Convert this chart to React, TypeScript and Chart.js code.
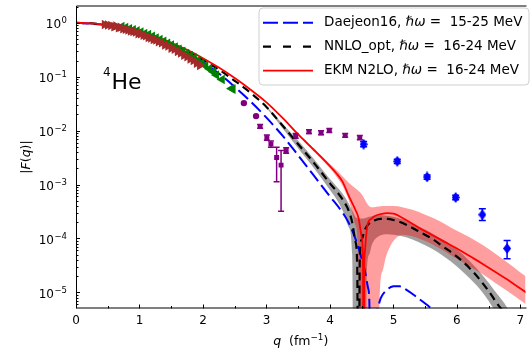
import React, { useEffect, useRef } from 'react';
import { Chart, registerables } from 'chart.js';
Chart.register(...registerables);

// ---------- data ----------
const qRed = [0, 0.25, 0.5, 0.75, 1.0, 1.25, 1.5, 1.75, 2.0, 2.25, 2.5, 2.75, 3.0, 3.25, 3.5, 3.75, 4.0, 4.1, 4.2, 4.3, 4.4, 4.45, 4.5, 4.52, 4.53, 4.54, 4.55, 4.57, 4.6, 4.65, 4.7, 4.8, 4.9, 5.0, 5.2, 5.4, 5.6, 5.8, 6.0, 6.2, 6.4, 6.6, 6.8, 7.0, 7.1];
const fRed = [1, 0.977, 0.91, 0.809, 0.685, 0.555, 0.428, 0.315, 0.221, 0.148, 0.0944, 0.0575, 0.0335, 0.0174, 0.00851, 0.00437, 0.00219, 0.00162, 0.00112, 6.0e-4, 3.4e-4, 2.4e-4, 1.05e-4, 3.5e-5, 1e-8, 2.8e-5, 5.6e-5, 1.12e-4, 1.95e-4, 2.29e-4, 2.57e-4, 2.82e-4, 2.95e-4, 2.88e-4, 2.19e-4, 1.58e-4, 1.17e-4, 8.7e-5, 6.5e-5, 4.7e-5, 3.4e-5, 2.4e-5, 1.7e-5, 1.17e-5, 9.8e-6];

const qBlack = [0, 0.25, 0.5, 0.75, 1, 1.25, 1.5, 1.75, 2, 2.25, 2.5, 2.75, 3, 3.25, 3.5, 3.75, 4, 4.1, 4.2, 4.3, 4.35, 4.4, 4.43, 4.45, 4.47, 4.5, 4.55, 4.6, 4.7, 4.8, 4.9, 5.0, 5.2, 5.4, 5.6, 5.8, 6.0, 6.2, 6.4, 6.6, 6.8, 7.0];
const fBlack = [1, 0.977, 0.909, 0.806, 0.68, 0.548, 0.418, 0.304, 0.206, 0.136, 0.0841, 0.0502, 0.0275, 0.0126, 5.6e-3, 2.5e-3, 1.05e-3, 7.6e-4, 5.25e-4, 3.16e-4, 2.0e-4, 8.9e-5, 2.8e-5, 1e-9, 4.5e-5, 9.5e-5, 1.45e-4, 1.8e-4, 2.15e-4, 2.3e-4, 2.3e-4, 2.2e-4, 1.8e-4, 1.35e-4, 1.0e-4, 6.8e-5, 4.6e-5, 2.8e-5, 1.5e-5, 7e-6, 2.5e-6, 1e-7];

const qBlue = [0, 0.5, 1.0, 1.5, 2.0, 2.25, 2.5, 2.75, 3.0, 3.25, 3.5, 3.75, 4.0, 4.2, 4.3, 4.4, 4.5, 4.55, 4.6, 4.62, 4.66, 4.7, 4.75, 4.8, 4.9, 5.0, 5.05, 5.1, 5.2, 5.3, 5.4, 5.5, 5.6, 5.7, 5.8, 6.0];
const fBlue = [1, 0.902, 0.661, 0.389, 0.186, 0.115, 0.0646, 0.0347, 0.0174, 0.00813, 0.00347, 0.00145, 6.0e-4, 3.0e-4, 1.9e-4, 1.0e-4, 4.2e-5, 2.5e-5, 1.2e-5, 7e-6, 1e-9, 2e-6, 5e-6, 7.8e-6, 1.12e-5, 1.29e-5, 1.3e-5, 1.29e-5, 1.12e-5, 9.3e-6, 7.6e-6, 6.2e-6, 5.0e-6, 4.0e-6, 3.2e-6, 2.0e-6];

const qPink = [3.0, 3.25, 3.5, 3.75, 4.0, 4.1, 4.2, 4.3, 4.4, 4.45, 4.47, 4.5, 4.55, 4.6, 4.65, 4.7, 4.76, 4.78, 4.83, 4.88, 4.94, 5.0, 5.14, 5.3, 5.5, 5.66, 6.0, 6.2, 6.4, 6.6, 6.8, 7.0, 7.1];
const pinkUpper = [0.0336, 0.0176, 8.91e-3, 4.57e-3, 2.4e-3, 1.86e-3, 1.41e-3, 1.07e-3, 8.51e-4, 7.59e-4, 7.24e-4, 6.61e-4, 5.25e-4, 4.17e-4, 3.8e-4, 3.8e-4, 3.89e-4, 3.89e-4, 3.98e-4, 3.98e-4, 3.98e-4, 3.98e-4, 3.8e-4, 3.39e-4, 2.75e-4, 2.29e-4, 1.38e-4, 1.05e-4, 7.59e-5, 5.25e-5, 3.55e-5, 2.34e-5, 1.91e-5];
const pinkLower = [0.0334, 0.0172, 8.13e-3, 4.07e-3, 2.0e-3, 1.41e-3, 9.33e-4, 5.0e-4, 1.78e-4, 3.16e-5, 1e-9, 1e-9, 1e-9, 1e-9, 1e-9, 1e-9, 1e-9, 6.3e-6, 2.51e-5, 4.47e-5, 6.76e-5, 8.91e-5, 1.17e-4, 1.1e-4, 8.91e-5, 7.24e-5, 4.17e-5, 3.02e-5, 2.19e-5, 1.51e-5, 1.05e-5, 7.08e-6, 5.89e-6];

const qGray = [3.0, 3.25, 3.5, 3.75, 4.0, 4.1, 4.2, 4.3, 4.35, 4.38, 4.4, 4.45, 4.5, 4.56, 4.58, 4.62, 4.66, 4.7, 4.8, 4.9, 5.0, 5.2, 5.4, 5.6, 5.8, 6.0, 6.2, 6.4, 6.6, 6.8, 7.0];
const grayUpper = [0.0288, 0.0135, 6.46e-3, 2.95e-3, 1.26e-3, 9.3e-4, 6.76e-4, 4.37e-4, 3.3e-4, 2.82e-4, 2.51e-4, 2.34e-4, 2.34e-4, 2.4e-4, 2.45e-4, 2.51e-4, 2.57e-4, 2.63e-4, 2.69e-4, 2.63e-4, 2.51e-4, 2.14e-4, 1.66e-4, 1.26e-4, 9.12e-5, 6.31e-5, 3.8e-5, 2.09e-5, 1.05e-5, 5.0e-6, 1.6e-6];
const grayLower = [0.0266, 0.0112, 4.68e-3, 2.0e-3, 7.9e-4, 5.4e-4, 3.3e-4, 1.58e-4, 5.0e-5, 1e-9, 1e-9, 1e-9, 1e-9, 1e-9, 2.0e-5, 5.01e-5, 7.59e-5, 9.33e-5, 1.15e-4, 1.2e-4, 1.17e-4, 1.05e-4, 8.51e-5, 6.46e-5, 4.57e-5, 3.02e-5, 1.82e-5, 1.0e-5, 4.47e-6, 1.58e-6, 3.2e-7];

// experimental data
const qBrown = [0.45, 0.5, 0.55, 0.6, 0.63, 0.67, 0.7, 0.74, 0.78, 0.82, 0.86, 0.9, 0.94, 0.98, 1.02, 1.06, 1.1, 1.14, 1.18, 1.22, 1.26, 1.3, 1.35, 1.4, 1.45, 1.5, 1.55, 1.6, 1.65, 1.7, 1.75, 1.8, 1.85, 1.9, 1.95];
const fBrown = [0.933, 0.912, 0.891, 0.851, 0.871, 0.813, 0.832, 0.776, 0.759, 0.741, 0.708, 0.692, 0.676, 0.631, 0.631, 0.589, 0.575, 0.537, 0.525, 0.49, 0.479, 0.447, 0.427, 0.389, 0.372, 0.339, 0.324, 0.295, 0.275, 0.251, 0.234, 0.214, 0.2, 0.178, 0.162];

const qGreen = [0.72, 0.78, 0.84, 0.9, 0.96, 1.02, 1.08, 1.14, 1.2, 1.26, 1.32, 1.38, 1.44, 1.5, 1.56, 1.62, 1.68, 1.74, 1.8, 1.86, 1.92, 1.98, 2.04, 2.1, 2.16, 2.21, 2.3, 2.45, 2.47];
const fGreen = [0.86, 0.82, 0.78, 0.745, 0.71, 0.675, 0.635, 0.605, 0.565, 0.525, 0.49, 0.455, 0.418, 0.388, 0.355, 0.324, 0.296, 0.27, 0.245, 0.222, 0.2, 0.18, 0.16, 0.14, 0.124, 0.108, 0.089, 0.0603, 0.0589];

const qPurpleCirc = [2.644, 2.836];
const fPurpleCirc = [0.0324, 0.0186];
const qPurple = [2.9, 3.006, 3.07, 3.16, 3.23, 3.31, 3.46, 3.67, 3.86, 3.99, 4.24, 4.47];
const fPurple = [0.012, 0.00741, 0.00562, 0.00316, 0.00229, 0.00427, 0.00794, 0.00955, 0.00912, 0.01, 0.00813, 0.00741];
const purpleLo = [0.0111, 0.0066, 0.0049, 0.00112, 0.00032, 0.0038, 0.0072, 0.0088, 0.0084, 0.0092, 0.0075, 0.0068];
const purpleHi = [0.013, 0.0083, 0.0064, 0.0049, 0.0043, 0.0048, 0.0088, 0.0104, 0.0099, 0.0109, 0.0088, 0.0081];

const qDiamond = [4.53, 5.06, 5.53, 5.98, 6.4, 6.79];
const fDiamond = [0.0056, 0.0027, 0.00138, 5.75e-4, 2.75e-4, 6.5e-5];
const diamondLo = [0.005, 0.00245, 0.00125, 5.2e-4, 2.15e-4, 4.2e-5];
const diamondHi = [0.0063, 0.00295, 0.0015, 6.3e-4, 3.55e-4, 9.1e-5];

const xTickValues = [0, 1, 2, 3, 4, 5, 6, 7];
const yTickValues = [1, 0.1, 0.01, 1e-3, 1e-4, 1e-5];
const yTickExp = ['0', '\u22121', '\u22122', '\u22123', '\u22124', '\u22125'];

const FONT = '"DejaVu Sans", sans-serif';

const zip = (xs: number[], ys: number[]) => xs.map((x, i) => ({ x, y: ys[i] }));

function makeDiamond(w: number, h: number, color: string) {
  const c = document.createElement('canvas');
  c.width = w;
  c.height = h;
  const g = c.getContext('2d')!;
  g.fillStyle = color;
  g.beginPath();
  g.moveTo(w / 2, 0);
  g.lineTo(w, h / 2);
  g.lineTo(w / 2, h);
  g.lineTo(0, h / 2);
  g.closePath();
  g.fill();
  return c;
}

const errorBarPlugin = {
  id: 'errbars',
  beforeDatasetsDraw(chart: any) {
    const { ctx, scales: { x, y } } = chart;
    ctx.save();
    const draw = (qs: number[], lo: number[], hi: number[], color: string, cap: number, lw: number) => {
      ctx.strokeStyle = color;
      ctx.lineWidth = lw;
      qs.forEach((q, i) => {
        const px = x.getPixelForValue(q);
        const y1 = y.getPixelForValue(lo[i]);
        const y2 = y.getPixelForValue(hi[i]);
        ctx.beginPath();
        ctx.moveTo(px, y1); ctx.lineTo(px, y2);
        ctx.moveTo(px - cap, y1); ctx.lineTo(px + cap, y1);
        ctx.moveTo(px - cap, y2); ctx.lineTo(px + cap, y2);
        ctx.stroke();
      });
    };
    draw(qPurple, purpleLo, purpleHi, '#800080', 3, 1.5);
    draw(qDiamond, diamondLo, diamondHi, '#0000ff', 3.5, 1.5);
    ctx.restore();
  },
};

const decorPlugin = {
  id: 'decor',
  afterDraw(chart: any) {
    const { ctx, chartArea: a, scales: { x, y } } = chart;
    ctx.save();
    ctx.strokeStyle = '#000';
    ctx.lineWidth = 1;
    // frame (left, top, bottom)
    ctx.beginPath();
    ctx.moveTo(a.right + 1, a.top + 0.5);
    ctx.lineTo(a.left + 0.5, a.top + 0.5);
    ctx.lineTo(a.left + 0.5, a.bottom - 0.5);
    ctx.lineTo(a.right + 1, a.bottom - 0.5);
    ctx.stroke();
    // x ticks
    ctx.beginPath();
    for (let v = 0; v <= 7.05; v += 0.5) {
      const px = Math.round(x.getPixelForValue(v)) + 0.5;
      const major = Math.abs(v - Math.round(v)) < 1e-6;
      const len = major ? 4 : 2.5;
      ctx.moveTo(px, a.bottom);
      ctx.lineTo(px, a.bottom - len);
    }
    // y ticks
    for (let e = -6; e <= 0; e++) {
      for (let k = 1; k <= 9; k++) {
        const v = k * Math.pow(10, e);
        if (v < y.min || v > y.max) continue;
        const py = Math.round(y.getPixelForValue(v)) + 0.5;
        const len = k === 1 ? 4 : 2.5;
        ctx.moveTo(a.left, py);
        ctx.lineTo(a.left + len, py);
      }
    }
    ctx.stroke();

    ctx.fillStyle = '#000';
    // x tick labels
    ctx.font = `12px ${FONT}`;
    ctx.textAlign = 'center';
    ctx.textBaseline = 'alphabetic';
    xTickValues.forEach((v) => {
      ctx.fillText(String(v), x.getPixelForValue(v), a.bottom + 15.5);
    });
    // y tick labels
    ctx.textAlign = 'right';
    yTickValues.forEach((v, i) => {
      const py = y.getPixelForValue(v);
      ctx.font = `8.5px ${FONT}`;
      const sw = ctx.measureText(yTickExp[i]).width;
      ctx.fillText(yTickExp[i], a.left - 9, py + 0.5);
      ctx.font = `12px ${FONT}`;
      ctx.fillText('10', a.left - 9 - sw - 0.5, py + 5.5);
    });

    // x axis title
    const cx = (a.left + a.right) / 2;
    const by = 345;
    ctx.textAlign = 'left';
    const parts: [string, string, number][] = [
      ['q', `italic 12.5px ${FONT}`, 0],
      ['  (fm', `12.5px ${FONT}`, 0],
      ['\u22121', `8.8px ${FONT}`, -5],
      [')', `12.5px ${FONT}`, 0],
    ];
    let tw = 0;
    parts.forEach(([t, f]) => { ctx.font = f; tw += ctx.measureText(t).width; });
    let tx = cx - tw / 2;
    parts.forEach(([t, f, dy]) => { ctx.font = f; ctx.fillText(t, tx, by + dy); tx += ctx.measureText(t).width; });

    // y axis title
    ctx.save();
    ctx.translate(30, (a.top + a.bottom) / 2);
    ctx.rotate(-Math.PI / 2);
    const yparts: [string, string][] = [
      ['|', `12.5px ${FONT}`],
      ['F', `italic 12.5px ${FONT}`],
      ['(', `12.5px ${FONT}`],
      ['q', `italic 12.5px ${FONT}`],
      [')|', `12.5px ${FONT}`],
    ];
    let yw = 0;
    yparts.forEach(([t, f]) => { ctx.font = f; yw += ctx.measureText(t).width; });
    let yx = -yw / 2;
    yparts.forEach(([t, f]) => { ctx.font = f; ctx.fillText(t, yx, 0); yx += ctx.measureText(t).width; });
    ctx.restore();

    // nucleus label
    ctx.font = `12px ${FONT}`;
    ctx.fillText('4', 103, 75.5);
    ctx.font = `22px ${FONT}`;
    ctx.fillText('He', 111.5, 88.5);

    // legend
    const lx = 259, ly = 8, lw = 270, lh = 77;
    ctx.beginPath();
    const r = 4;
    ctx.moveTo(lx + r, ly);
    ctx.arcTo(lx + lw, ly, lx + lw, ly + lh, r);
    ctx.arcTo(lx + lw, ly + lh, lx, ly + lh, r);
    ctx.arcTo(lx, ly + lh, lx, ly, r);
    ctx.arcTo(lx, ly, lx + lw, ly, r);
    ctx.closePath();
    ctx.fillStyle = 'rgba(255,255,255,0.8)';
    ctx.fill();
    ctx.strokeStyle = '#d0d0d0';
    ctx.lineWidth = 1;
    ctx.stroke();

    const items = [
      { pre: 'Daejeon16, ', post: ' =  15-25 MeV', color: '#0000ff', dash: [15, 5], w: 2 },
      { pre: 'NNLO_opt, ', post: ' =  16-24 MeV', color: '#000000', dash: [8, 12], w: 2.2 },
      { pre: 'EKM N2LO, ', post: ' =  16-24 MeV', color: '#ff0000', dash: [], w: 1.8 },
    ];
    items.forEach((it, i) => {
      const cy = 22.7 + i * 24;
      ctx.strokeStyle = it.color;
      ctx.lineWidth = it.w;
      ctx.setLineDash(it.dash);
      ctx.beginPath();
      ctx.moveTo(263, cy);
      ctx.lineTo(313, cy);
      ctx.stroke();
      ctx.setLineDash([]);
      ctx.fillStyle = '#000';
      ctx.textBaseline = 'middle';
      let px = 324;
      ctx.font = `13.5px ${FONT}`;
      ctx.fillText(it.pre, px, cy);
      px += ctx.measureText(it.pre).width;
      ctx.font = `italic 13.5px ${FONT}`;
      ctx.fillText('\u210F\u03C9', px, cy);
      px += ctx.measureText('\u210F\u03C9').width;
      ctx.font = `13.5px ${FONT}`;
      ctx.fillText(it.post, px, cy);
    });
    ctx.restore();
  },
};

export default function App() {
  const ref = useRef<HTMLCanvasElement>(null);
  useEffect(() => {
    const diamond = makeDiamond(8, 11, '#0000ff');
    const lineBase = { pointRadius: 0, pointHoverRadius: 0, fill: false, cubicInterpolationMode: 'monotone' as const };
    const chart = new Chart(ref.current!, {
      type: 'line',
      data: {
        datasets: [
          // markers (top)
          { data: zip(qBrown, fBrown), showLine: false, pointStyle: 'triangle', rotation: 90, pointRadius: 5.5, backgroundColor: '#a52a2a', borderColor: '#a52a2a', borderWidth: 0, order: 0 } as any,
          { data: zip(qGreen, fGreen), showLine: false, pointStyle: 'triangle', rotation: -90, pointRadius: 5.5, backgroundColor: '#008000', borderColor: '#008000', borderWidth: 0, order: 1 },
          { data: zip(qPurpleCirc, fPurpleCirc), showLine: false, pointStyle: 'circle', pointRadius: 3.2, backgroundColor: '#800080', borderColor: '#800080', borderWidth: 0, order: 0 },
          { data: zip(qPurple, fPurple), showLine: false, pointStyle: 'rect', pointRadius: 3.5, backgroundColor: '#800080', borderColor: '#800080', borderWidth: 0, order: 0 },
          { data: zip(qDiamond, fDiamond), showLine: false, pointStyle: diamond, pointRadius: 5, backgroundColor: '#0000ff', borderColor: '#0000ff', borderWidth: 0, order: 0 },
          // lines
          { ...lineBase, data: zip(qRed, fRed), borderColor: '#ff0000', borderWidth: 1.8, order: 2 },
          { ...lineBase, data: zip(qBlack, fBlack), borderColor: '#000000', borderWidth: 2.2, borderDash: [8, 5], order: 2 },
          { ...lineBase, data: zip(qBlue, fBlue), borderColor: '#0000ff', borderWidth: 2, borderDash: [13, 5], order: 2 },
          // bands
          { ...lineBase, data: zip(qPink, pinkUpper), borderWidth: 0, fill: '+1', backgroundColor: 'rgba(255,0,0,0.38)', order: 3 },
          { ...lineBase, data: zip(qPink, pinkLower), borderWidth: 0, order: 3 },
          { ...lineBase, data: zip(qGray, grayUpper), borderWidth: 0, fill: '+1', backgroundColor: 'rgba(0,0,0,0.37)', order: 4 },
          { ...lineBase, data: zip(qGray, grayLower), borderWidth: 0, order: 4 },
        ],
      },
      options: {
        animation: false,
        responsive: false,
        devicePixelRatio: 1,
        events: [],
        layout: { padding: { top: 1, right: 0, left: 0, bottom: 0 } },
        plugins: { legend: { display: false }, tooltip: { enabled: false } },
        scales: {
          x: {
            type: 'linear', min: 0, max: 7.08,
            grid: { display: false }, border: { display: false },
            ticks: { display: false },
            afterFit: (s: any) => { s.height = 53.5; },
          },
          y: {
            type: 'logarithmic', min: 5e-6, max: 2.1,
            grid: { display: false }, border: { display: false },
            ticks: { display: false },
            afterFit: (s: any) => { s.width = 76; },
          },
        },
      },
      plugins: [errorBarPlugin, decorPlugin],
    } as any);
    return () => chart.destroy();
  }, []);
  return (
    <div style={{ position: 'fixed', left: 0, top: 0, width: 531, height: 362, background: '#fff' }}>
      <canvas ref={ref} width={531} height={362} style={{ display: 'block', width: 531, height: 362 }} />
    </div>
  );
}
